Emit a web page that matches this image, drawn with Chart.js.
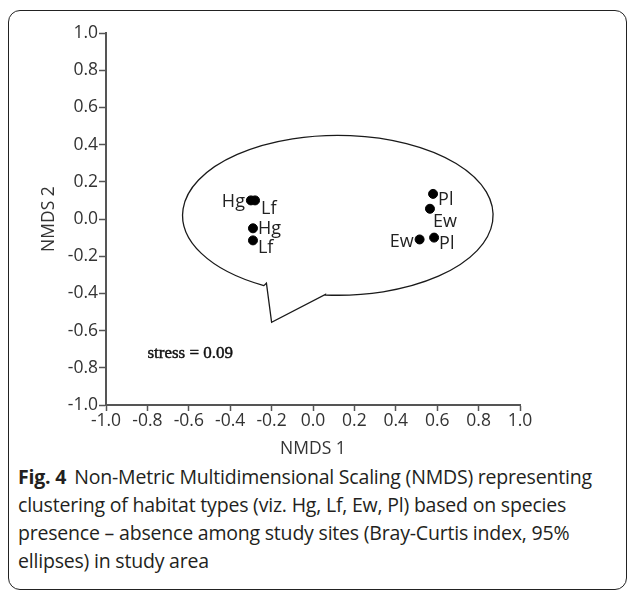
<!DOCTYPE html>
<html>
<head>
<meta charset="utf-8">
<script src="https://cdn.jsdelivr.net/npm/chart.js@4"></script>
<style>
  html, body { margin: 0; padding: 0; background: #fff; }
  body { width: 629px; height: 590px; position: relative; overflow: hidden; }
  .frame {
    position: absolute; left: 8px; top: 10px; width: 617px; height: 578px;
    border: 1.5px solid #222; border-radius: 12px;
  }
  .plot { position: absolute; left: 0; top: 0; width: 629px; height: 462px; }
  .caption {
    position: absolute; left: 18px; top: 463px; width: 610px; white-space: nowrap;
    font-family: "Open Sans", sans-serif; font-size: 19.5px; line-height: 28px;
    color: #231f20; letter-spacing: -0.2px;
  }
  .caption b { font-weight: 700; margin-right: 8px; }
</style>
</head>
<body>
<div class="frame"></div>
<div class="plot"><canvas id="chart" width="629" height="462"></canvas></div>
<div class="caption">
  <b>Fig. 4</b>Non-Metric Multidimensional Scaling (NMDS) representing<br>
  clustering of habitat types (viz. Hg, Lf, Ew, Pl) based on species<br>
  presence – absence among study sites (Bray-Curtis index, 95%<br>
  ellipses) in study area
</div>
<script>
// site scores
const siteNames = ['Hg', 'Lf', 'Hg', 'Lf', 'Pl', 'Ew', 'Ew', 'Pl'];
const nmds1 = [-0.30, -0.28, -0.29, -0.29, 0.58, 0.565, 0.515, 0.585];
const nmds2 = [0.10, 0.10, -0.05, -0.115, 0.135, 0.055, -0.11, -0.10];

const xTickLabels = ['-1.0', '-0.8', '-0.6', '-0.4', '-0.2', '0.0', '0.2', '0.4', '0.6', '0.8', '1.0'];
const yTickLabels = ['-1.0', '-0.8', '-0.6', '-0.4', '-0.2', '0.0', '0.2', '0.4', '0.6', '0.8', '1.0'];

// outline around the sites (ellipse + the pointed bit at lower left), in NMDS units
const hullCentre = [0.12, 0.02];
const hullRadii = [0.75, 0.43];
const tailX = [-0.225, -0.20, 0.06];
const tailY = [-0.345, -0.555, -0.405];

const stressNote = 'stress = 0.09';
const stressAt = [-0.80, -0.725];

// where each name sits next to its dot
const labelPlace = [
  { dx: -6, dy: 1, align: 'right' },
  { dx: 6, dy: 8, align: 'left' },
  { dx: 5, dy: 1, align: 'left' },
  { dx: 5, dy: 7, align: 'left' },
  { dx: 5, dy: 6, align: 'left' },
  { dx: 3, dy: 13, align: 'left' },
  { dx: -6, dy: 2, align: 'right' },
  { dx: 5, dy: 6, align: 'left' },
];

const axisGrey = '#555';
const tickFont = { family: 'Open Sans', size: 17.5 };

const overlay = {
  id: 'overlay',
  beforeDatasetsDraw(chart) {
    const { ctx, scales: { x, y } } = chart;
    const cx = x.getPixelForValue(hullCentre[0]);
    const cy = y.getPixelForValue(hullCentre[1]);
    const rx = Math.abs(x.getPixelForValue(hullCentre[0] + hullRadii[0]) - cx);
    const ry = Math.abs(y.getPixelForValue(hullCentre[1] + hullRadii[1]) - cy);
    const px = tailX.map((v) => x.getPixelForValue(v));
    const py = tailY.map((v) => y.getPixelForValue(v));
    const ang = (i) => Math.atan2((py[i] - cy) / ry, (px[i] - cx) / rx);

    ctx.save();
    ctx.beginPath();
    ctx.moveTo(px[0], py[0]);
    ctx.lineTo(px[1], py[1]);
    ctx.lineTo(px[2], py[2]);
    ctx.ellipse(cx, cy, rx, ry, 0, ang(2), ang(0), true);
    ctx.closePath();
    ctx.lineWidth = 1.3;
    ctx.strokeStyle = '#1a1a1a';
    ctx.stroke();

    // stress value, slightly heavy serif as in the original
    const sx = x.getPixelForValue(stressAt[0]);
    const sy = y.getPixelForValue(stressAt[1]);
    ctx.fillStyle = '#111';
    ctx.strokeStyle = '#111';
    ctx.lineWidth = 0.45;
    ctx.font = '17px "Liberation Serif"';
    ctx.textAlign = 'left';
    ctx.textBaseline = 'middle';
    ctx.fillText(stressNote, sx, sy);
    ctx.strokeText(stressNote, sx, sy);
    ctx.restore();
  },
  afterDatasetsDraw(chart) {
    const { ctx } = chart;
    const meta = chart.getDatasetMeta(0);
    ctx.save();
    ctx.fillStyle = '#222';
    ctx.font = '18px "Open Sans"';
    ctx.textBaseline = 'middle';
    meta.data.forEach((pt, i) => {
      const place = labelPlace[i];
      ctx.textAlign = place.align;
      ctx.fillText(siteNames[i], pt.x + place.dx, pt.y + place.dy);
    });
    ctx.restore();
  },
};

new Chart(document.getElementById('chart'), {
  type: 'scatter',
  data: {
    datasets: [
      {
        data: nmds1.map((v, i) => ({ x: v, y: nmds2[i] })),
        backgroundColor: '#000',
        borderColor: '#000',
        pointRadius: 4.5,
        pointHoverRadius: 4.5,
      },
    ],
  },
  options: {
    responsive: false,
    animation: false,
    layout: { padding: { left: 0, right: 109, top: 33, bottom: 0 } },
    plugins: { legend: { display: false }, tooltip: { enabled: false } },
    scales: {
      x: {
        min: -1,
        max: 1,
        afterFit: (scale) => { scale.height = 57; },
        border: { color: axisGrey, width: 2 },
        grid: { drawOnChartArea: false, tickLength: 6, tickColor: axisGrey, tickWidth: 1.5 },
        ticks: {
          stepSize: 0.2,
          autoSkip: false,
          maxRotation: 0,
          padding: 0,
          color: '#333',
          font: tickFont,
          callback: (value, index) => xTickLabels[index],
        },
        title: {
          display: true,
          text: 'NMDS 1',
          color: '#333',
          font: tickFont,
          padding: { top: 0, bottom: 2 },
        },
      },
      y: {
        min: -1,
        max: 1,
        afterFit: (scale) => { scale.width = 106; },
        border: { color: axisGrey, width: 2 },
        grid: { drawOnChartArea: false, tickLength: 7, tickColor: axisGrey, tickWidth: 1.5 },
        ticks: {
          stepSize: 0.2,
          autoSkip: false,
          padding: 1,
          color: '#333',
          font: tickFont,
          callback: (value, index) => yTickLabels[index],
        },
        title: {
          display: true,
          text: 'NMDS 2',
          color: '#333',
          font: tickFont,
          padding: { top: 39, bottom: 0 },
        },
      },
    },
  },
  plugins: [overlay],
});
</script>
</body>
</html>
